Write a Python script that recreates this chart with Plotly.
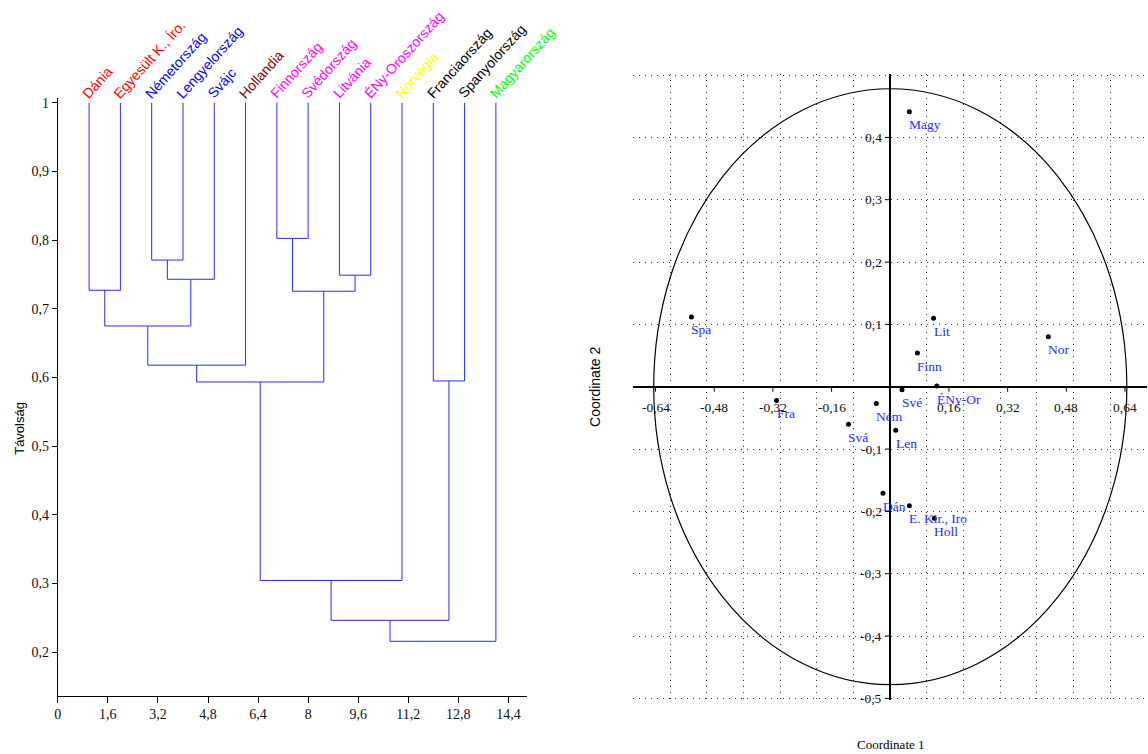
import plotly.graph_objects as go

# ---------------- data: dendrogram ----------------
leaves = ["Dánia", "Egyesült K., Íro.", "Németország", "Lengyelország", "Svájc",
          "Hollandia", "Finnország", "Svédország", "Litvánia", "ÉNy-Oroszország",
          "Norvégia", "Franciaország", "Spanyolország", "Magyarország"]
leaf_colors = ["#FF0000", "#FF0000", "#0000FF", "#0000FF", "#0000FF",
               "#800000", "#FF00FF", "#FF00FF", "#FF00FF", "#FF00FF",
               "#FFFF00", "#000000", "#000000", "#00FF00"]
leaf_top = 1.0
# (cluster a, cluster b, merge height); leaves are 0..13, new clusters 14..
merges = [(0, 1, 0.727), (2, 3, 0.771), (15, 4, 0.743), (14, 16, 0.675),
          (17, 5, 0.618), (6, 7, 0.8025), (8, 9, 0.749), (19, 20, 0.7256),
          (18, 21, 0.5935), (22, 10, 0.3045), (11, 12, 0.595), (23, 24, 0.2465),
          (25, 13, 0.216)]
dendro_xticks = [0, 1.6, 3.2, 4.8, 6.4, 8, 9.6, 11.2, 12.8, 14.4]
dendro_xticktext = ["0", "1,6", "3,2", "4,8", "6,4", "8", "9,6", "11,2", "12,8", "14,4"]
dendro_yticks = [0.2, 0.3, 0.4, 0.5, 0.6, 0.7, 0.8, 0.9, 1.0]
dendro_yticktext = ["0,2", "0,3", "0,4", "0,5", "0,6", "0,7", "0,8", "0,9", "1"]

# ---------------- data: ordination ----------------
pts_labels = ["Spa", "Lit", "Nor", "Finn", "ÉNy-Or", "Své", "Fra", "Ném", "Svá",
              "Len", "Dán", "E. Kir., Iro", "Holl", "Magy"]
coord1 = [-0.542, 0.118, 0.431, 0.074, 0.127, 0.032, -0.310, -0.038, -0.114,
          0.015, -0.020, 0.052, 0.120, 0.052]
coord2 = [0.112, 0.110, 0.080, 0.054, 0.001, -0.005, -0.022, -0.027, -0.060,
          -0.070, -0.171, -0.191, -0.211, 0.441]
ord_xticks = [-0.64, -0.48, -0.32, -0.16, 0.16, 0.32, 0.48, 0.64]
ord_xticktext = ["-0,64", "-0,48", "-0,32", "-0,16", "0,16", "0,32", "0,48", "0,64"]
ord_yticks = [0.4, 0.3, 0.2, 0.1, -0.1, -0.2, -0.3, -0.4, -0.5]
ord_yticktext = ["0,4", "0,3", "0,2", "0,1", "-0,1", "-0,2", "-0,3", "-0,4", "-0,5"]
ord_xgrid = [-0.7, -0.6, -0.5, -0.4, -0.3, -0.2, -0.1, 0.1, 0.2, 0.3, 0.4, 0.5, 0.6]
ord_ygrid = [-0.5, -0.4, -0.3, -0.2, -0.1, 0.1, 0.2, 0.3, 0.4, 0.5]
ellipse_rx = 0.645
ellipse_ry = 0.478

SERIF = "Liberation Serif"
SANS = "Liberation Sans"

fig = go.Figure()

# dendrogram lines
pos = {i: i + 1 for i in range(len(leaves))}
hgt = {i: leaf_top for i in range(len(leaves))}
xs, ys = [], []
for k, (a, b, h) in enumerate(merges):
    xa, xb = pos[a], pos[b]
    xs += [xa, xa, xb, xb, None]
    ys += [hgt[a], h, h, hgt[b], None]
    pos[len(leaves) + k] = (xa + xb) / 2
    hgt[len(leaves) + k] = h

fig.add_trace(go.Scatter(x=xs, y=ys, mode="lines", line=dict(color="#2A2AFF", width=1),
                         xaxis="x", yaxis="y", hoverinfo="skip", showlegend=False))

annotations = []
for i, (name, col) in enumerate(zip(leaves, leaf_colors)):
    annotations.append(dict(x=pos[i], y=leaf_top, xref="x", yref="y", text=name,
                            showarrow=False, textangle=-48, xanchor="left", yanchor="bottom",
                            xshift=-11, yshift=0, borderpad=0,
                            font=dict(family=SANS, size=14, color=col)))

annotations.append(dict(x=16 / 1148, y=1 - 427 / 754, xref="paper", yref="paper", text="Távolság",
                        showarrow=False, textangle=-90, xanchor="center", yanchor="middle",
                        font=dict(family=SANS, size=13, color="#000")))

# ordination points
fig.add_trace(go.Scatter(x=coord1, y=coord2, mode="markers",
                         marker=dict(color="#000", size=5),
                         xaxis="x2", yaxis="y2", hoverinfo="skip", showlegend=False))
for lab, cx, cy in zip(pts_labels, coord1, coord2):
    annotations.append(dict(x=cx, y=cy, xref="x2", yref="y2", text=lab, showarrow=False,
                            xanchor="left", yanchor="middle", xshift=-2, yshift=-13,
                            font=dict(family=SERIF, size=13.5, color="#2B2BFF")))

shapes = [dict(type="circle", xref="x2", yref="y2", x0=-ellipse_rx, x1=ellipse_rx,
               y0=-ellipse_ry, y1=ellipse_ry, line=dict(color="#000", width=1.2), layer="above")]
for t, lab in zip(ord_xticks, ord_xticktext):
    shapes.append(dict(type="line", xref="x2", yref="y2", ysizemode="pixel", yanchor=0,
                       x0=t, x1=t, y0=0, y1=-5, line=dict(color="#000", width=1)))
    annotations.append(dict(x=t, y=0, xref="x2", yref="y2", text=lab, showarrow=False,
                            xanchor="center", yanchor="middle", yshift=-21,
                            font=dict(family=SERIF, size=13.5, color="#111")))
for t, lab in zip(ord_yticks, ord_yticktext):
    shapes.append(dict(type="line", xref="x2", yref="y2", xsizemode="pixel", xanchor=0,
                       x0=-5, x1=0, y0=t, y1=t, line=dict(color="#000", width=1)))
    annotations.append(dict(x=0, y=t, xref="x2", yref="y2", text=lab, showarrow=False,
                            xanchor="right", yanchor="middle", xshift=-6,
                            font=dict(family=SERIF, size=13.5, color="#111")))

annotations.append(dict(x=890 / 1148, y=1 - 744 / 754, xref="paper", yref="paper",
                        text="Coordinate 1", showarrow=False, xanchor="center", yanchor="middle",
                        font=dict(family=SERIF, size=13, color="#000")))
annotations.append(dict(x=593 / 1148, y=1 - 386 / 754, xref="paper", yref="paper",
                        text="Coordinate 2", showarrow=False, textangle=-90,
                        xanchor="center", yanchor="middle",
                        font=dict(family=SANS, size=14, color="#000")))

fig.update_layout(
    width=1148, height=754, margin=dict(l=0, r=0, t=0, b=0),
    paper_bgcolor="white", plot_bgcolor="white",
    xaxis=dict(domain=[54 / 1148, 525 / 1148], range=[0, 15], anchor="y",
               tickvals=dendro_xticks, ticktext=dendro_xticktext, ticks="outside", ticklen=6,
               tickcolor="#000", showline=True, linecolor="#000", linewidth=1,
               showgrid=False, zeroline=False,
               tickfont=dict(family=SERIF, size=14, color="#111")),
    yaxis=dict(domain=[1 - 695.4 / 754, 1 - 96.2 / 754], range=[0.137, 1.007], anchor="x",
               tickvals=dendro_yticks, ticktext=dendro_yticktext, ticks="outside", ticklen=5,
               tickcolor="#000", showline=True, linecolor="#000", linewidth=1,
               showgrid=False, zeroline=False,
               tickfont=dict(family=SERIF, size=14, color="#111")),
    xaxis2=dict(domain=[631 / 1148, 1147 / 1148], range=[-0.702, 0.7], anchor="y2",
                tickvals=ord_xgrid, showticklabels=False, ticks="",
                showgrid=True, gridcolor="#333", gridwidth=1, griddash="1px,5px",
                zeroline=True, zerolinecolor="#000", zerolinewidth=1.5, showline=False),
    yaxis2=dict(domain=[1 - 699.5 / 754, 1 - 72 / 754], range=[-0.502, 0.502], anchor="x2",
                tickvals=ord_ygrid, showticklabels=False, ticks="",
                showgrid=True, gridcolor="#333", gridwidth=1, griddash="1px,5px",
                zeroline=True, zerolinecolor="#000", zerolinewidth=1.5, showline=False),
    annotations=annotations, shapes=shapes,
)

fig.write_html("out.html", config={"displayModeBar": False},
               post_script="document.body.style.margin='0';")
